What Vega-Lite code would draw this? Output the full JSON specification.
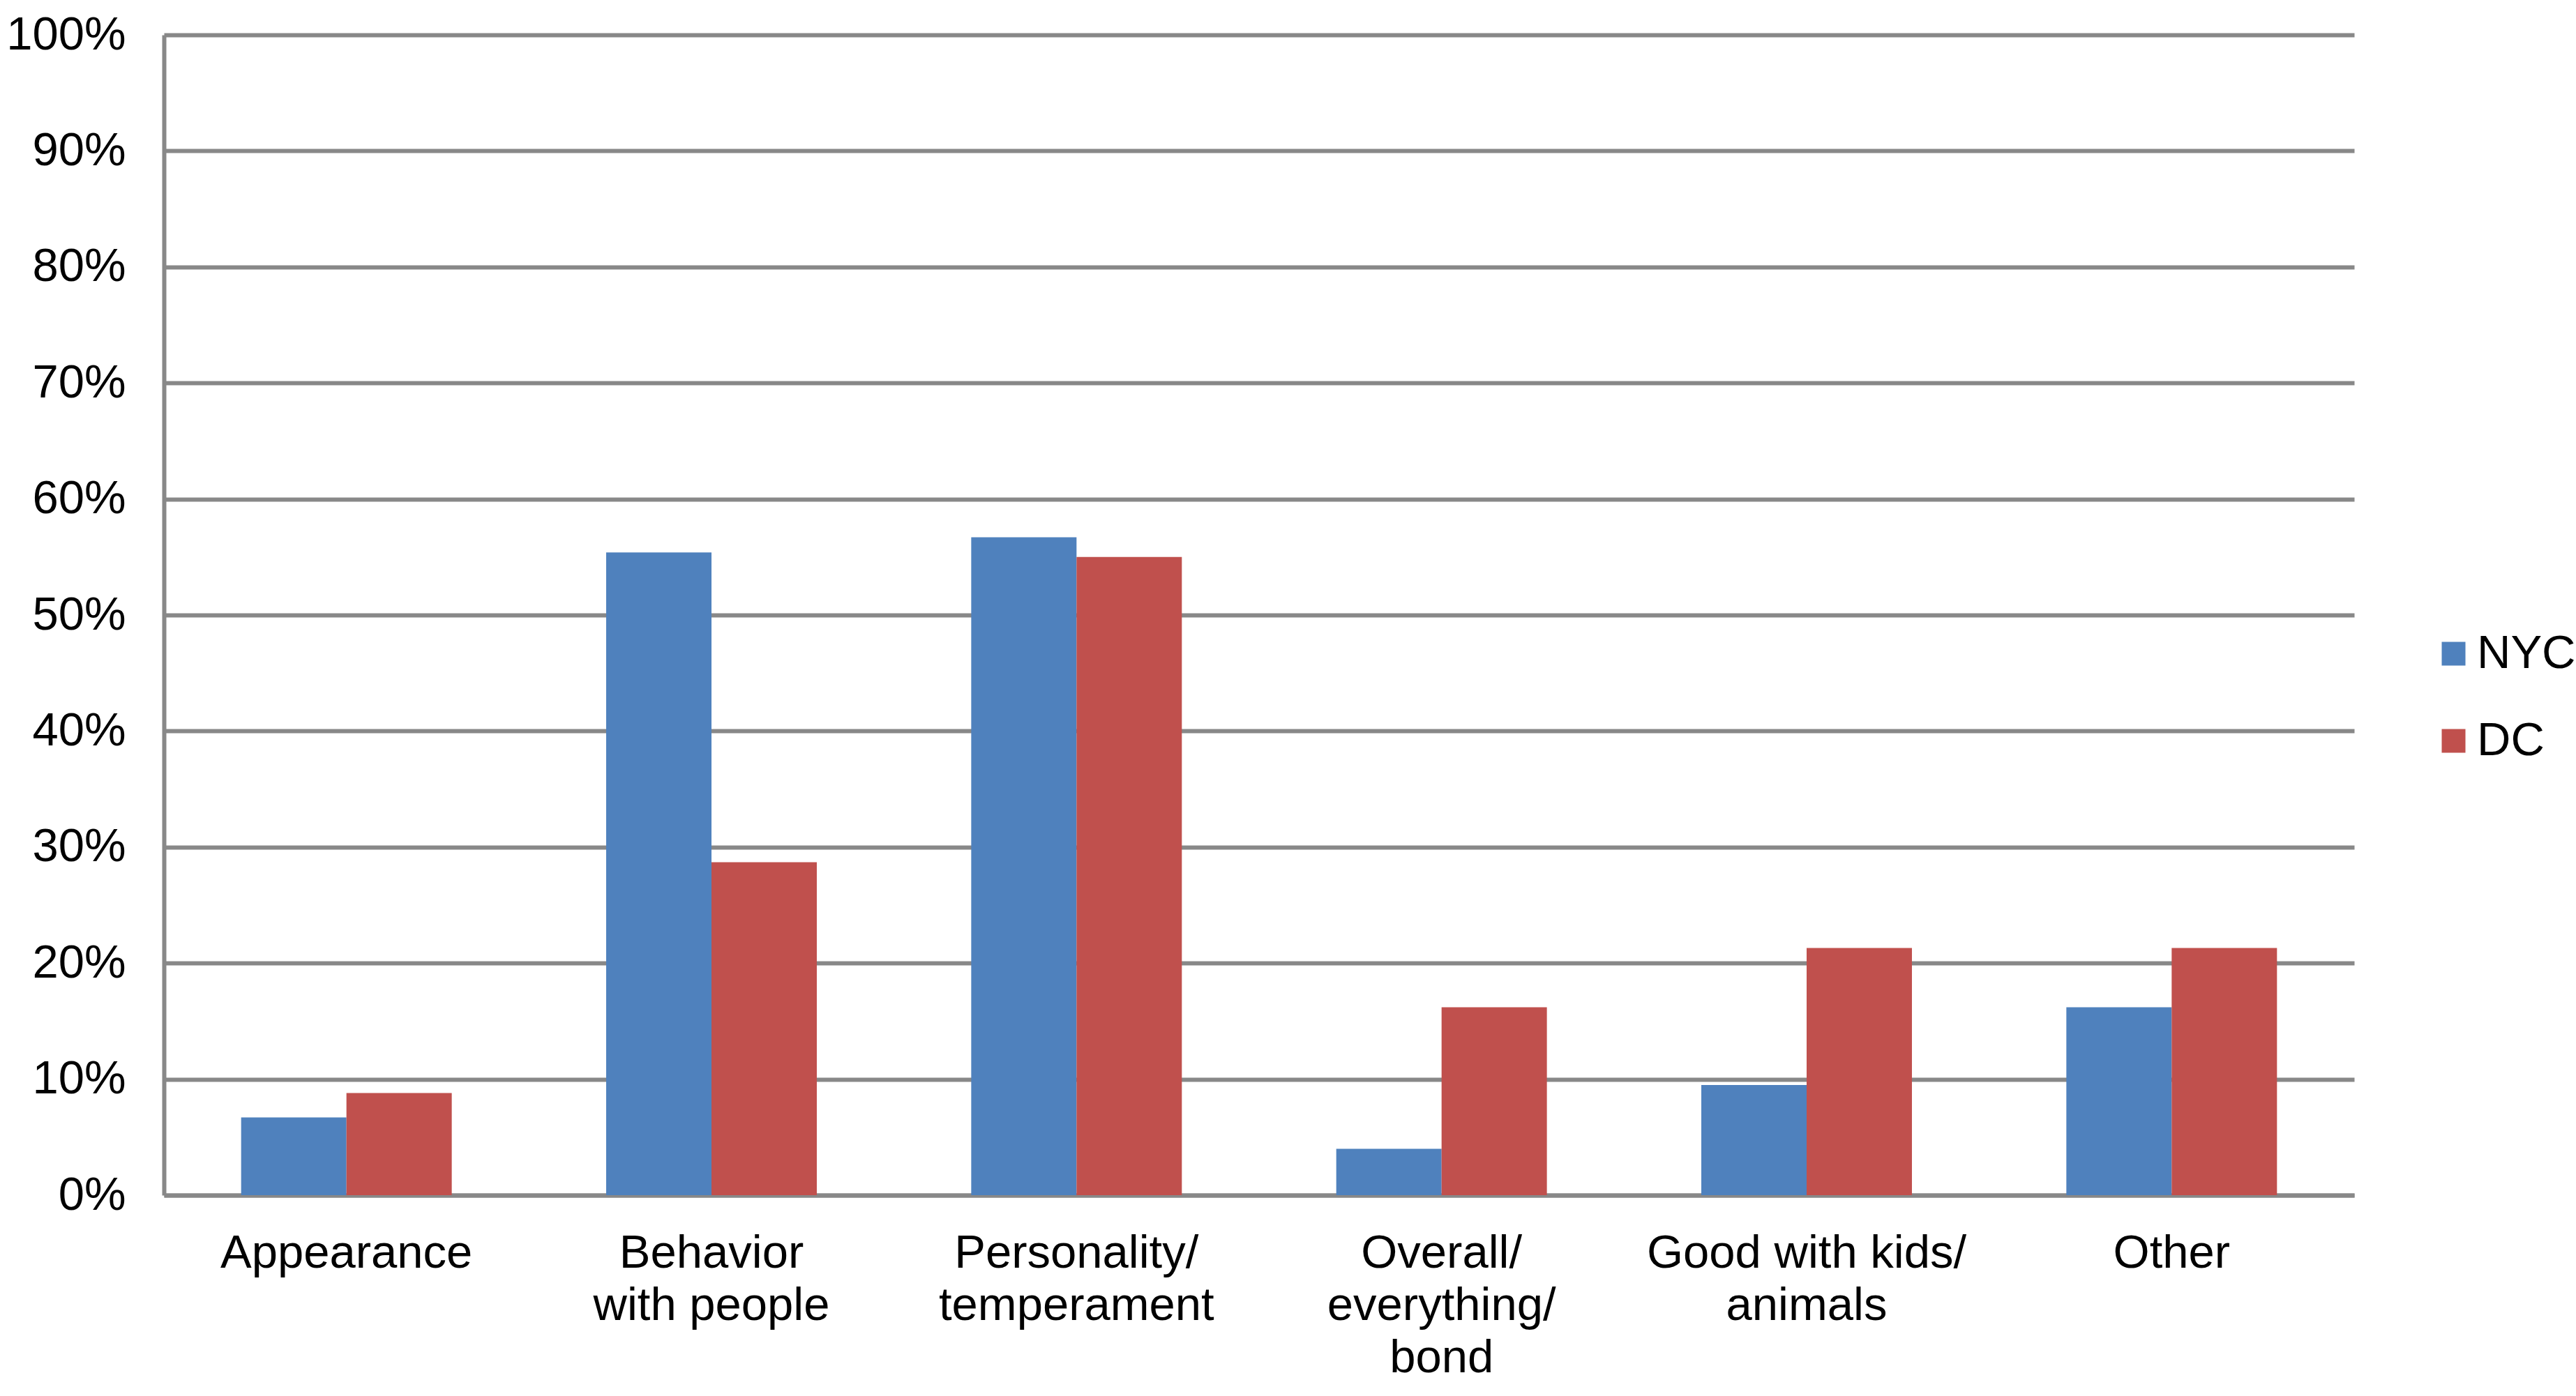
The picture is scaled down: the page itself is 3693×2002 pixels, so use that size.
{
  "$schema": "https://vega.github.io/schema/vega-lite/v6.json",
  "width": 3140,
  "height": 1664,
  "autosize": {"type": "none"},
  "padding": {"left": 235, "top": 50, "right": 318, "bottom": 288},
  "background": "white",
  "config": {"view": {"stroke": null}, "font": "Liberation Sans"},
  "data": {
    "values": [
      {"category": "Appearance", "city": "NYC", "value": 0.067},
      {"category": "Appearance", "city": "DC", "value": 0.088},
      {"category": "Behavior with people", "city": "NYC", "value": 0.554},
      {"category": "Behavior with people", "city": "DC", "value": 0.287},
      {"category": "Personality/temperament", "city": "NYC", "value": 0.567},
      {"category": "Personality/temperament", "city": "DC", "value": 0.550},
      {"category": "Overall/everything/bond", "city": "NYC", "value": 0.040},
      {"category": "Overall/everything/bond", "city": "DC", "value": 0.162},
      {"category": "Good with kids/animals", "city": "NYC", "value": 0.095},
      {"category": "Good with kids/animals", "city": "DC", "value": 0.213},
      {"category": "Other", "city": "NYC", "value": 0.162},
      {"category": "Other", "city": "DC", "value": 0.213}
    ]
  },
  "mark": {"type": "bar"},
  "encoding": {
    "x": {
      "field": "category",
      "type": "nominal",
      "sort": ["Appearance", "Behavior with people", "Personality/temperament", "Overall/everything/bond", "Good with kids/animals", "Other"],
      "scale": {"paddingInner": 0.423, "paddingOuter": 0.2115},
      "axis": {
        "title": null,
        "labelAngle": 0,
        "ticks": false,
        "labelFontSize": 67,
        "labelColor": "black",
        "labelLineHeight": 75,
        "labelPadding": 50,
        "labelBaseline": "top",
        "labelLimit": 0,
        "labelOverlap": false,
        "domainColor": "#888888",
        "domainWidth": 6,
        "labelExpr": "datum.value == 'Behavior with people' ? ['Behavior','with people'] : datum.value == 'Personality/temperament' ? ['Personality/','temperament'] : datum.value == 'Overall/everything/bond' ? ['Overall/','everything/','bond'] : datum.value == 'Good with kids/animals' ? ['Good with kids/','animals'] : datum.value"
      }
    },
    "xOffset": {"field": "city", "type": "nominal", "sort": ["NYC", "DC"]},
    "y": {
      "field": "value",
      "type": "quantitative",
      "scale": {"domain": [0, 1], "nice": false},
      "axis": {
        "title": null,
        "format": ".0%",
        "values": [0, 0.1, 0.2, 0.3, 0.4, 0.5, 0.6, 0.7, 0.8, 0.9, 1],
        "grid": true,
        "gridColor": "#888888",
        "gridWidth": 6,
        "gridOpacity": 1,
        "domainColor": "#888888",
        "domainWidth": 6,
        "ticks": false,
        "labelFontSize": 67,
        "labelColor": "black",
        "labelPadding": 55
      }
    },
    "color": {
      "field": "city",
      "type": "nominal",
      "scale": {"domain": ["NYC", "DC"], "range": ["#4F81BD", "#C0504D"]},
      "legend": {
        "title": null,
        "orient": "none",
        "legendX": 3249,
        "legendY": 854,
        "symbolType": "square",
        "symbolSize": 1156,
        "symbolStrokeWidth": 0,
        "labelFontSize": 67,
        "labelColor": "black",
        "labelOffset": 0,
        "rowPadding": 57
      }
    }
  }
}
